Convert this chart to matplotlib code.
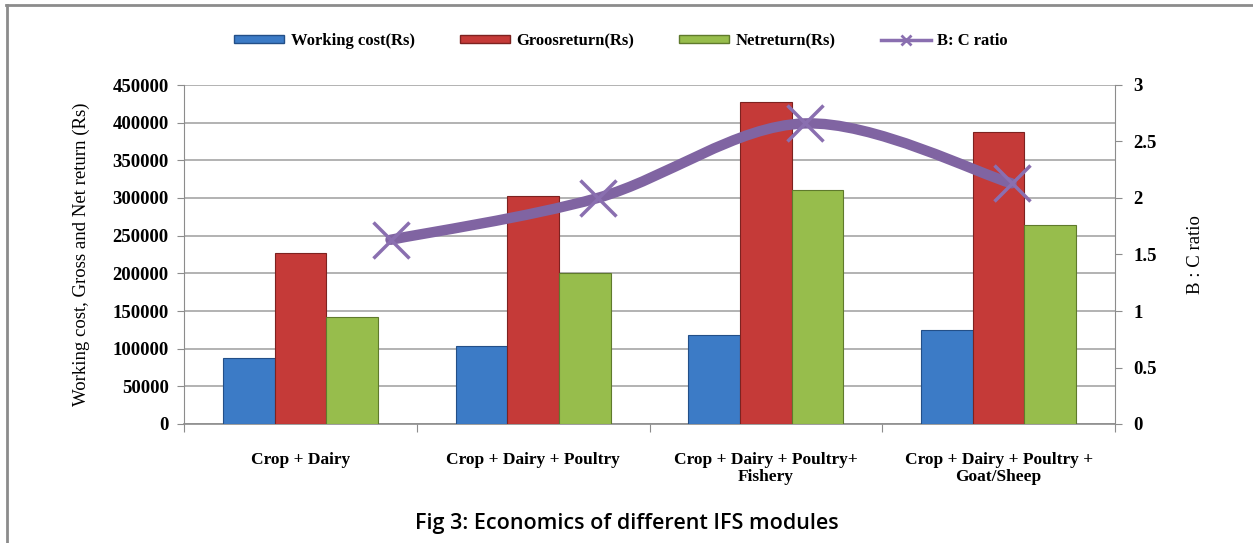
import numpy as np
import matplotlib
matplotlib.use("Agg")
import matplotlib.pyplot as plt
from matplotlib.path import Path
from matplotlib.patches import PathPatch
from matplotlib.lines import Line2D

categories = ["Crop + Dairy", "Crop + Dairy + Poultry",
              "Crop + Dairy + Poultry+\nFishery", "Crop + Dairy + Poultry +\nGoat/Sheep"]
working_cost = [87500, 103000, 118000, 125000]
gross_return = [227000, 302000, 428000, 387000]
net_return = [142000, 201000, 310000, 264000]
bc_ratio = [1.63, 2.00, 2.66, 2.13]

W, H = 1253, 543
fig = plt.figure(figsize=(W / 100, H / 100), dpi=100)
plt.rcParams['font.family'] = ['Liberation Serif', 'DejaVu Serif']

def px(x0, y0, x1, y1):
    return [x0 / W, 1 - y1 / H, (x1 - x0) / W, (y1 - y0) / H]

# outer frame
fig.add_artist(Line2D([6 / W, 1], [1 - 5 / H, 1 - 5 / H], color='#8c8c8c', lw=2))
fig.add_artist(Line2D([7 / W, 7 / W], [0, 1 - 5 / H], color='#8c8c8c', lw=2))

ax = fig.add_axes(px(184, 85, 1115, 424))
x = np.arange(len(categories))
bw = 0.222
blue, red, green = '#3c7bc6', '#c53a38', '#97bd4c'
ax.bar(x - bw, working_cost, bw, color=blue, edgecolor='#234f88', lw=0.8, zorder=3)
ax.bar(x, gross_return, bw, color=red, edgecolor='#7d2220', lw=0.8, zorder=3)
ax.bar(x + bw, net_return, bw, color=green, edgecolor='#5f7a2c', lw=0.8, zorder=3)

ax.set_xlim(-0.5, 3.5)
ax.set_ylim(0, 450000)
ax.set_yticks(np.arange(0, 450001, 50000))
ax.yaxis.grid(True, color='#a6a6a6', lw=1.2)
ax.set_axisbelow(True)
for s in ['top', 'right']:
    ax.spines[s].set_visible(False)
ax.spines['left'].set_color('#8c8c8c')
ax.spines['bottom'].set_color('#8c8c8c')
ax.spines['bottom'].set_linewidth(1.2)
ax.set_xticks(np.arange(-0.5, 3.6, 1.0))
ax.set_xticklabels([])
ax.set_xticks(x, minor=True)
ax.set_xticklabels(categories, minor=True, fontsize=12.5, fontweight='bold', linespacing=1.1)
ax.tick_params(axis='x', which='major', length=6, color='#8c8c8c', direction='out')
ax.tick_params(axis='x', which='minor', length=0, pad=20)
ax.tick_params(axis='y', length=5, color='#8c8c8c', labelsize=13.5, pad=6)
for t in ax.get_yticklabels():
    t.set_fontweight('bold')
ax.set_ylabel("Working cost, Gross and Net return (Rs)", fontsize=13.5, labelpad=16)

# secondary axis for B:C ratio
ax2 = ax.twinx()
ax2.set_ylim(0, 3)
ax2.set_yticks([0, 0.5, 1, 1.5, 2, 2.5, 3])
ax2.set_yticklabels(['0', '0.5', '1', '1.5', '2', '2.5', '3'])
for s in ['top', 'left', 'bottom']:
    ax2.spines[s].set_visible(False)
ax2.spines['right'].set_color('#8c8c8c')
ax2.tick_params(axis='y', length=5, color='#8c8c8c', labelsize=13.5, pad=8)
for t in ax2.get_yticklabels():
    t.set_fontweight('bold')
ax2.set_ylabel("B : C ratio", fontsize=13.5, labelpad=22)

# line lives on its own horizontal scale (secondary category axis)
axl = fig.add_axes(px(287, 85, 1115, 424))
axl.set_xlim(-0.5, 3.5)
axl.set_ylim(0, 3)
axl.axis('off')
xs = np.arange(len(bc_ratio), dtype=float)
ys = np.array(bc_ratio)
verts = [(xs[0], ys[0])]
codes = [Path.MOVETO]
for i in range(len(xs) - 1):
    p0 = np.array([xs[max(i - 1, 0)], ys[max(i - 1, 0)]])
    p1 = np.array([xs[i], ys[i]])
    p2 = np.array([xs[i + 1], ys[i + 1]])
    p3 = np.array([xs[min(i + 2, len(xs) - 1)], ys[min(i + 2, len(xs) - 1)]])
    c1 = p1 + (p2 - p0) / 6
    c2 = p2 - (p3 - p1) / 6
    verts += [tuple(c1), tuple(c2), tuple(p2)]
    codes += [Path.CURVE4] * 3
purple = '#8064a2'
axl.add_patch(PathPatch(Path(verts, codes), fill=False, edgecolor=purple, lw=7.5,
                        capstyle='round', zorder=4))
axl.plot(xs, ys, ls='none', marker='x', ms=26, mew=2.5, color='#8a6fb0', zorder=5)

# legend
handles = [plt.Rectangle((0, 0), 1, 1, color=blue, ec='#234f88'),
           plt.Rectangle((0, 0), 1, 1, color=red, ec='#7d2220'),
           plt.Rectangle((0, 0), 1, 1, color=green, ec='#5f7a2c'),
           Line2D([], [], color='#8a6fb0', lw=2.5, marker='x', ms=7, mew=2)]
labels = ["Working cost(Rs)", "Groosreturn(Rs)", "Netreturn(Rs)", "B: C ratio"]
fig.legend(handles, labels, loc='center', bbox_to_anchor=(621 / W, 1 - 41 / H), ncol=4,
           frameon=False, handlelength=3.0, handleheight=0.4, columnspacing=2.7,
           handletextpad=0.4, prop={'family': 'Liberation Serif', 'size': 12, 'weight': 'bold'})

fig.text(0.5, 1 - 523 / H, "Fig 3: Economics of different IFS modules", ha='center', va='center',
         fontsize=15.5, family='Open Sans', fontweight='semibold')

fig.savefig("out.png", dpi=100)
